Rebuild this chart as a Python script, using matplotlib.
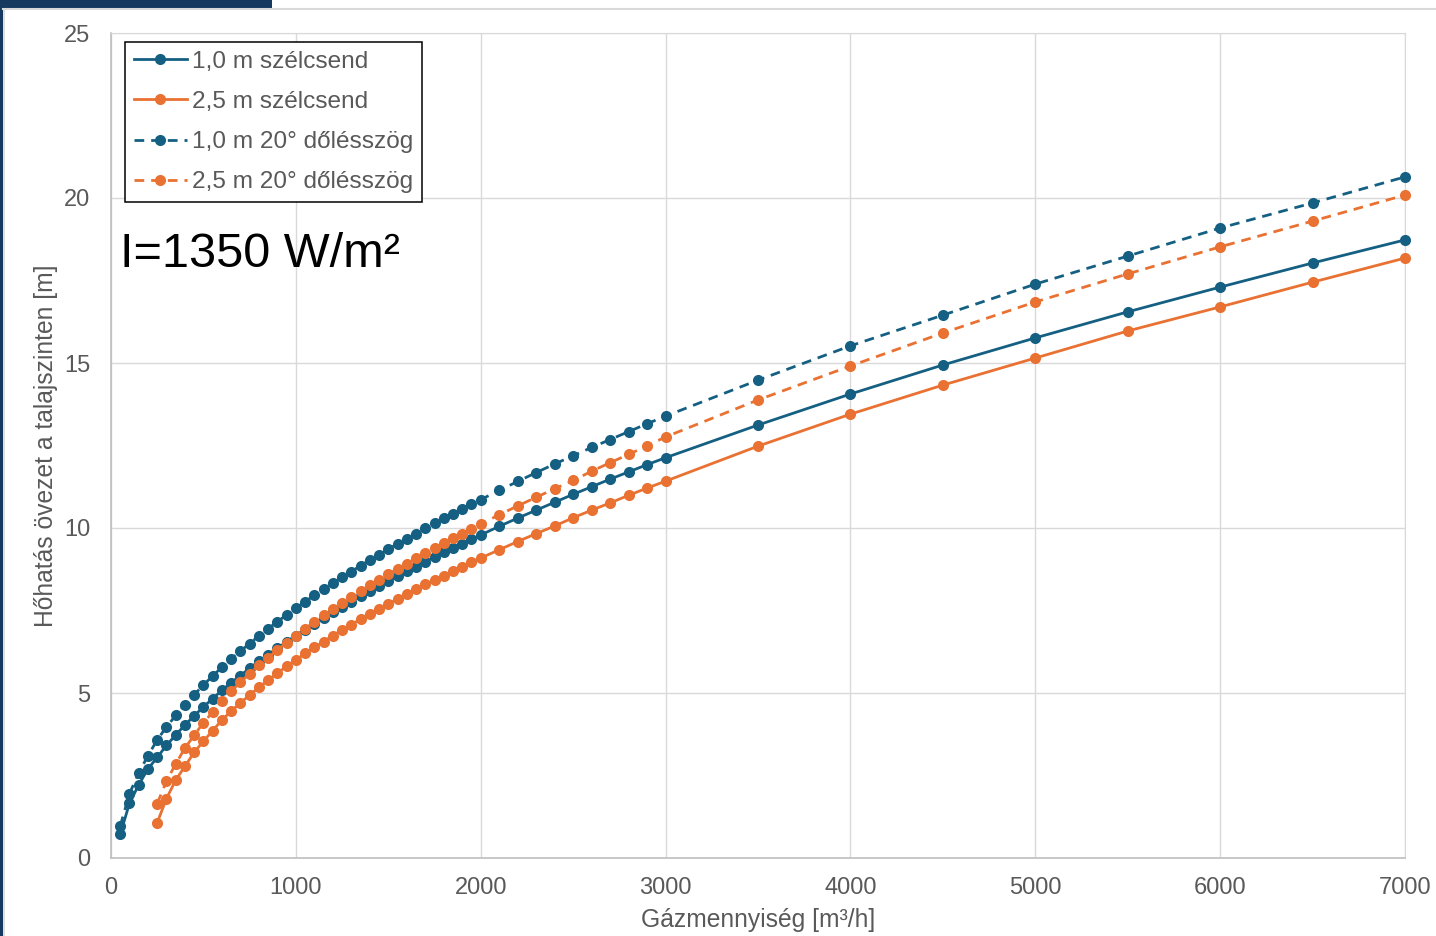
import matplotlib
matplotlib.use("Agg")
import matplotlib.pyplot as plt
from matplotlib.patches import Rectangle
from matplotlib.lines import Line2D

# gas flow [m3/h]
x_blue = [50, 100, 150, 200, 250, 300, 350, 400, 450, 500,
          550, 600, 650, 700, 750, 800, 850, 900, 950, 1000,
          1050, 1100, 1150, 1200, 1250, 1300, 1350, 1400, 1450, 1500,
          1550, 1600, 1650, 1700, 1750, 1800, 1850, 1900, 1950, 2000,
          2100, 2200, 2300, 2400, 2500, 2600, 2700, 2800, 2900, 3000,
          3500, 4000, 4500, 5000, 5500, 6000, 6500, 7000]
x_orange = [250, 300, 350, 400, 450, 500,
            550, 600, 650, 700, 750, 800, 850, 900, 950, 1000,
            1050, 1100, 1150, 1200, 1250, 1300, 1350, 1400, 1450, 1500,
            1550, 1600, 1650, 1700, 1750, 1800, 1850, 1900, 1950, 2000,
            2100, 2200, 2300, 2400, 2500, 2600, 2700, 2800, 2900, 3000,
            3500, 4000, 4500, 5000, 5500, 6000, 6500, 7000]

# ground-level radius [m]
calm_10 = [0.72, 1.66, 2.22, 2.70, 3.05, 3.41, 3.73, 4.03, 4.31, 4.58,
           4.83, 5.08, 5.31, 5.53, 5.75, 5.96, 6.16, 6.36, 6.55, 6.74,
           6.92, 7.10, 7.27, 7.44, 7.61, 7.77, 7.93, 8.09, 8.24, 8.39,
           8.54, 8.69, 8.83, 8.98, 9.12, 9.26, 9.39, 9.53, 9.66, 9.79,
           10.05, 10.30, 10.54, 10.78, 11.02, 11.25, 11.48, 11.70, 11.92, 12.13,
           13.12, 14.06, 14.94, 15.76, 16.55, 17.30, 18.03, 18.73]
tilt_10 = [0.97, 1.95, 2.58, 3.10, 3.58, 3.97, 4.32, 4.65, 4.95, 5.24,
           5.52, 5.78, 6.03, 6.27, 6.50, 6.73, 6.95, 7.16, 7.37, 7.57,
           7.77, 7.96, 8.15, 8.33, 8.51, 8.68, 8.86, 9.03, 9.19, 9.36,
           9.52, 9.68, 9.83, 9.99, 10.14, 10.29, 10.43, 10.58, 10.72, 10.86,
           11.14, 11.41, 11.68, 11.94, 12.19, 12.44, 12.68, 12.92, 13.16, 13.39,
           14.48, 15.52, 16.45, 17.39, 18.24, 19.09, 19.85, 20.64]
calm_25 = [1.07, 1.80, 2.36, 2.78, 3.20, 3.54,
           3.86, 4.18, 4.45, 4.70, 4.94, 5.17, 5.39, 5.60, 5.81, 6.00,
           6.20, 6.38, 6.56, 6.74, 6.91, 7.07, 7.24, 7.39, 7.55, 7.70,
           7.85, 8.00, 8.14, 8.29, 8.42, 8.56, 8.70, 8.83, 8.96, 9.09,
           9.34, 9.59, 9.83, 10.06, 10.31, 10.54, 10.76, 10.99, 11.21, 11.42,
           12.48, 13.45, 14.33, 15.15, 15.97, 16.70, 17.45, 18.18]
tilt_25 = [1.65, 2.33, 2.85, 3.33, 3.72, 4.10,
           4.42, 4.76, 5.05, 5.33, 5.59, 5.84, 6.07, 6.30, 6.53, 6.74,
           6.95, 7.15, 7.35, 7.54, 7.73, 7.91, 8.09, 8.26, 8.43, 8.60,
           8.76, 8.92, 9.08, 9.24, 9.39, 9.54, 9.69, 9.83, 9.98, 10.12,
           10.40, 10.67, 10.93, 11.19, 11.44, 11.72, 11.98, 12.23, 12.49, 12.76,
           13.88, 14.91, 15.91, 16.85, 17.70, 18.52, 19.30, 20.09]

labels = ["1,0 m szélcsend", "2,5 m szélcsend",
          "1,0 m 20° dőlésszög", "2,5 m 20° dőlésszög"]

BLUE = "#156082"
ORANGE = "#E97132"
NAVY = "#16395f"
TXT = "#595959"

plt.rcParams["font.family"] = ["Liberation Sans", "DejaVu Sans"]

fig = plt.figure(figsize=(14.36, 9.36), dpi=100)
ax = fig.add_axes([111 / 1436, 1 - 858 / 936, 1294 / 1436, 825 / 936])

# slide frame bits around the chart
fig.add_artist(Rectangle((0, 1 - 7.5 / 936), 272 / 1436, 7.5 / 936,
                         transform=fig.transFigure, color=NAVY, lw=0))
fig.add_artist(Rectangle((0, 0), 3 / 1436, 1, transform=fig.transFigure,
                         color=NAVY, lw=0))
fig.add_artist(Line2D([3 / 1436, 1], [1 - 9 / 936, 1 - 9 / 936],
                      transform=fig.transFigure, color="#d9d9d9", lw=1.5))
fig.add_artist(Line2D([4 / 1436, 4 / 1436], [0, 1 - 9 / 936],
                      transform=fig.transFigure, color="#d9d9d9", lw=1.2))

series = [
    (x_blue, calm_10, BLUE, "-"),
    (x_orange, calm_25, ORANGE, "-"),
    (x_blue, tilt_10, BLUE, (0, (3.5, 2.5))),
    (x_orange, tilt_25, ORANGE, (0, (3.5, 2.5))),
]
for i, (xs, ys, col, ls) in enumerate(series):
    ax.plot(xs, ys, linestyle=ls, color=col, lw=2.0, marker="o",
            markersize=8, markeredgewidth=0, label=labels[i],
            clip_on=False, zorder=3 + i)

ax.set_xlim(0, 7000)
ax.set_ylim(0, 25)
ax.set_xticks(range(0, 7001, 1000))
ax.set_yticks(range(0, 26, 5))
ax.grid(True, color="#d9d9d9", lw=1.0, zorder=0)
ax.tick_params(length=0, labelsize=17, colors=TXT)
ax.tick_params(axis="x", pad=14)
ax.tick_params(axis="y", pad=15)
for side in ["top", "right"]:
    ax.spines[side].set_color("#d9d9d9")
for side in ["left", "bottom"]:
    ax.spines[side].set_color("#bfbfbf")
    ax.spines[side].set_linewidth(1.2)

ax.set_xlabel("Gázmennyiség [m³/h]", fontsize=17.7, color=TXT)
ax.set_ylabel("Hőhatás övezet a talajszinten [m]", fontsize=17.7, color=TXT)
ax.xaxis.set_label_coords(0.5, -0.0752)
ax.xaxis.label.set_va("center")
ax.yaxis.set_label_coords(-0.0505, 0.5)
ax.yaxis.label.set_va("center")

ax.text(0.007, 0.731, "I=1350 W/m²", transform=ax.transAxes,
        fontsize=35, color="black", ha="left", va="center")

leg = ax.legend(loc="upper left", bbox_to_anchor=(0.0108, 0.989),
                borderaxespad=0, fontsize=17.6, frameon=True, fancybox=False,
                handlelength=2.2, handletextpad=0.2, labelspacing=0.74,
                borderpad=0.35, framealpha=1)
leg.get_frame().set_edgecolor("black")
leg.get_frame().set_linewidth(1.1)
for t in leg.get_texts():
    t.set_color(TXT)

fig.savefig("out.png", dpi=100, facecolor="white")
